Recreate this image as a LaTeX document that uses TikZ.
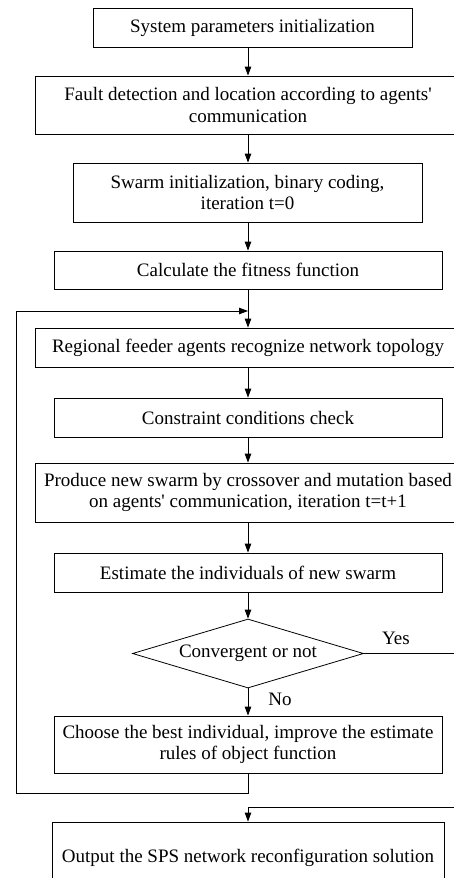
\documentclass[tikz,border=0pt]{standalone}
\usepackage{fontspec}
\setmainfont{Liberation Serif}
\usetikzlibrary{arrows.meta,shapes.geometric}
\begin{document}
\begin{tikzpicture}[x=1pt,y=-1pt,
  box/.style={draw, line width=0.8pt, inner sep=0pt, align=center,
    font=\fontsize{19}{21.7}\selectfont},
  lbl/.style={inner sep=0pt, font=\fontsize{19}{21.7}\selectfont},
  arr/.style={line width=0.8pt, -{Triangle[length=9pt,width=6.5pt]}},
  ln/.style={line width=0.8pt}]
\clip (0,0) rectangle (454,878);
\fill[white] (0,0) rectangle (454,878);
\node[box, minimum width=319, minimum height=39] (b1) at (252.5,27.5) {System parameters initialization};
\node[box, minimum width=426, minimum height=58] (b2) at (248,105) {Fault detection and location according to agents\textquotesingle\\communication};
\node[box, minimum width=349, minimum height=59] (b3) at (247.5,192.5) {Swarm initialization, binary coding,\\iteration t=0};
\node[box, minimum width=388, minimum height=38] (b4) at (248,270) {Calculate the fitness function};
\node[box, minimum width=426, minimum height=39] (b5) at (248,347.5) {Regional feeder agents recognize network topology};
\node[box, minimum width=388, minimum height=39] (b6) at (248,417.5) {Constraint conditions check};
\node[box, minimum width=426, minimum height=59] (b7) at (248,492.5) {Produce new swarm by crossover and mutation based\\on agents\textquotesingle{} communication, iteration t=t+1};
\node[box, minimum width=388, minimum height=39] (b8) at (248,572.5) {Estimate the individuals of new swarm};
\node[box, shape=diamond, aspect=3.35, minimum width=231, minimum height=69] (dia) at (248,653.5) {Convergent or not};
\node[box, minimum width=388, minimum height=57] (b9) at (248,744.5) {Choose the best individual, improve the estimate\\rules of object function};
\node[box, minimum width=392, minimum height=72] (b10) at (248,858) {Output the SPS network reconfiguration solution};
\node[lbl] (yes) at (396,638) {Yes};
\node[lbl] (no) at (280,699) {No};
\coordinate (join) at (248,311);
\coordinate (lb) at (16,793);
\coordinate (rt1) at (470,653.5);
\coordinate (rt2) at (470,807);
\draw[arr] (b2.north |- b1.south) -- (b2.north);
\draw[arr] (b2.south) -- (b2.south |- b3.north);
\draw[arr] (b4.north |- b3.south) -- (b4.north);
\draw[arr] (b4.south) -- (b5.north);
\draw[arr] (b5.south) -- (b6.north);
\draw[arr] (b6.south) -- (b7.north);
\draw[arr] (b7.south) -- (b8.north);
\draw[arr] (b8.south) -- (dia.north);
\draw[arr] (dia.south) -- (b9.north);
\draw[arr] (b9.south) |- (lb) |- (join);
\draw[arr] (dia.east) -- (rt1) -- (rt2) -- (b10.north |- rt2) -- (b10.north);
\end{tikzpicture}
\end{document}
